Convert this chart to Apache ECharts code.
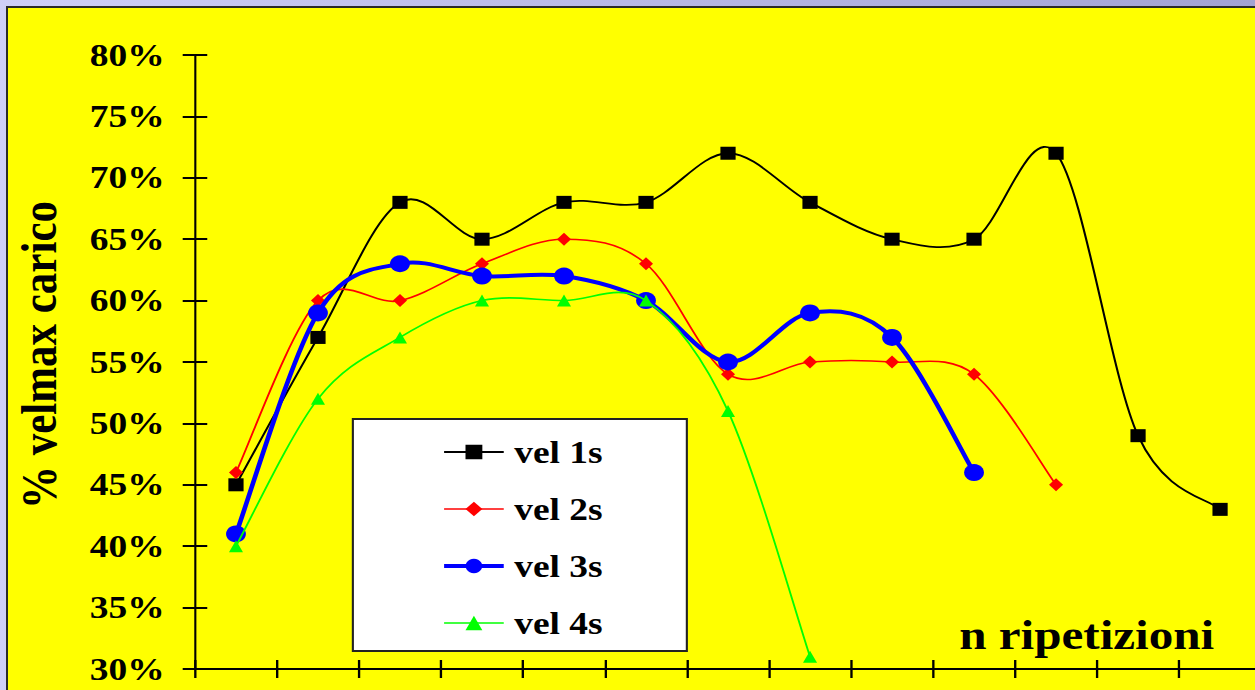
<!DOCTYPE html>
<html>
<head>
<meta charset="utf-8">
<script src="https://cdn.jsdelivr.net/npm/echarts@6/dist/echarts.min.js"></script>
<style>
  html, body { margin:0; padding:0; width:1255px; height:690px; overflow:hidden;
    background: linear-gradient(to right, #cfcff7, #a3a3d3); }
  #panel { position:absolute; left:6px; top:6px; width:1260px; height:700px;
    background:#ffff00; border-left:2px solid #2a2a2a; border-top:2px solid #2a2a2a; }
  #chart { position:absolute; left:0; top:0; width:1090px; height:690px;
    transform:scaleX(1.1696); transform-origin:0 0; }
</style>
</head>
<body>
<div id="panel"></div>
<div id="chart"></div>
<script>
// ---- data ----
const categories = ['1','2','3','4','5','6','7','8','9','10','11','12','13'];
const seriesNames = ['vel 1s','vel 2s','vel 3s','vel 4s'];
const vel1s = [45, 57, 68, 65, 68, 68, 72, 68, 65, 65, 72, 49, 43];
const vel2s = [46, 60, 60, 63, 65, 63, 54, 55, 55, 54, 45];
const vel3s = [41, 59, 63, 62, 62, 60, 55, 59, 57, 46];
const vel4s = [40, 52, 57, 60, 60, 60, 51, 31];
const yMin = 30, yMax = 80, yStep = 5;
const yAxisTitle = '% velmax carico';
const xAxisTitle = 'n ripetizioni';

const FONT = "'Liberation Serif', 'Times New Roman', serif";
const chart = echarts.init(document.getElementById('chart'), null, {renderer:'svg'});

const gridBox = { left: 166.7, top: 55, width: 911.5, height: 614 };
const styles = [
  { color:'#000000', width:1.8, symbol:'rect', size:13 },
  { color:'#ff0000', width:1.6, symbol:'diamond', size:[12,13] },
  { color:'#0000ff', width:4, symbol:'circle', size:17 },
  { color:'#00ff00', width:1.6, symbol:'triangle', size:[12,12] }
];
const allData = [vel1s, vel2s, vel3s, vel4s];

// Excel-like smoothed curve (Catmull-Rom bezier) drawn through the axes' own coordinate system
function curveSeries(k) {
  const vals = allData[k];
  const st = styles[k];
  return {
    name: seriesNames[k] + ' ',
    type: 'custom',
    data: vals.map((v, i) => [i, v]),
    z: 10 + 2 * k,
    silent: true,
    animation: false,
    renderItem: function (params, api) {
      const i = params.dataIndex;
      const n = vals.length;
      if (i >= n - 1) return null;
      const c = j => api.coord([Math.max(0, Math.min(n - 1, j)), vals[Math.max(0, Math.min(n - 1, j))]]);
      const p0 = c(i - 1), p1 = c(i), p2 = c(i + 1), p3 = c(i + 2);
      return {
        type: 'bezierCurve',
        shape: {
          x1: p1[0], y1: p1[1], x2: p2[0], y2: p2[1],
          cpx1: p1[0] + (p2[0] - p0[0]) / 6, cpy1: p1[1] + (p2[1] - p0[1]) / 6,
          cpx2: p2[0] - (p3[0] - p1[0]) / 6, cpy2: p2[1] - (p3[1] - p1[1]) / 6
        },
        style: { stroke: st.color, lineWidth: st.width, fill: null, lineCap: 'round' }
      };
    }
  };
}

function markerSeries(k) {
  const st = styles[k];
  return {
    name: seriesNames[k], type: 'line', data: allData[k],
    symbol: st.symbol, symbolSize: st.size,
    z: 11 + 2 * k,
    lineStyle: { color: st.color, width: st.width, opacity: 0 },
    itemStyle: { color: st.color },
    emphasis: { disabled: true },
    animation: false
  };
}

const series = [];
for (let k = 0; k < 4; k++) { series.push(curveSeries(k)); series.push(markerSeries(k)); }

chart.setOption({
  animation:false,
  backgroundColor:'transparent',
  grid: gridBox,
  legend: {
    orient:'vertical',
    left: 301.7, top: 419,
    padding:[15, 72, 10, 76],
    backgroundColor:'#ffffff',
    borderColor:'#222', borderWidth:1.8,
    itemWidth:51, itemHeight:18, itemGap:21,
    data: seriesNames.map((nm, k) => ({
      name: nm,
      lineStyle: { color: styles[k].color, width: styles[k].width, opacity: 1 }
    })),
    textStyle:{ fontFamily:FONT, fontWeight:'bold', fontSize:32, color:'#000', lineHeight:36, padding:[0,0,0,4] }
  },
  xAxis: [{
    type:'category', data:categories, boundaryGap:true,
    name: xAxisTitle, nameLocation:'end', nameGap:-40,
    nameTextStyle:{ fontFamily:FONT, fontWeight:'bold', fontSize:42, color:'#000', align:'right', verticalAlign:'bottom', padding:[0,0,13,0] },
    axisLine:{ lineStyle:{ color:'#000', width:2 } },
    axisTick:{ show:true, inside:false, length:9, lineStyle:{ color:'#000', width:2 } },
    axisLabel:{ show:false },
    splitLine:{ show:false }
  },{
    type:'category', data:categories, boundaryGap:true, position:'bottom',
    axisLine:{ show:false },
    axisTick:{ show:true, inside:true, length:9, lineStyle:{ color:'#000', width:2 } },
    axisLabel:{ show:false },
    splitLine:{ show:false }
  }],
  yAxis: [{
    type:'value', min:yMin, max:yMax, interval:yStep,
    name: yAxisTitle, nameLocation:'middle', nameGap:112, nameRotate:90,
    nameTextStyle:{ fontFamily:FONT, fontWeight:'bold', fontSize:43, color:'#000', padding:[0,0,0,14] },
    axisLine:{ show:true, lineStyle:{ color:'#000', width:1.8 } },
    axisTick:{ show:true, inside:false, length:10.5, lineStyle:{ color:'#000', width:2 } },
    axisLabel:{ formatter:'{value}%', fontFamily:FONT, fontWeight:'bold', fontSize:32, color:'#000', margin:26 },
    splitLine:{ show:false }
  },{
    type:'value', min:yMin, max:yMax, interval:yStep, position:'left',
    axisLine:{ show:false },
    axisTick:{ show:true, inside:true, length:10.5, lineStyle:{ color:'#000', width:2 } },
    axisLabel:{ show:false },
    splitLine:{ show:false }
  }],
  series: series
});
</script>
</body>
</html>
